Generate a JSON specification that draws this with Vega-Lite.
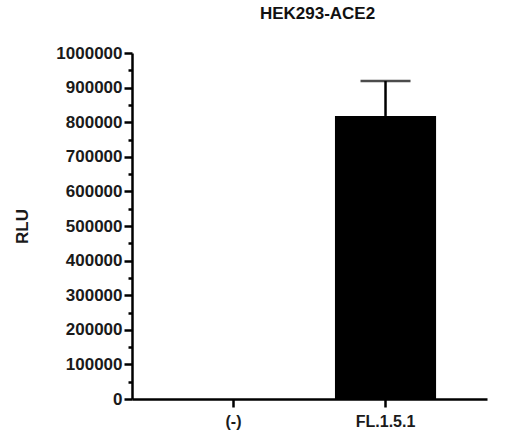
{
  "$schema": "https://vega.github.io/schema/vega-lite/v6.json",
  "width": 355,
  "height": 346,
  "autosize": {"type": "none"},
  "padding": {"left": 132, "top": 53, "right": 22, "bottom": 43},
  "background": "white",
  "config": {"view": {"stroke": null}, "font": "Liberation Sans"},
  "title": {
    "text": "HEK293-ACE2",
    "font": "Liberation Sans",
    "fontSize": 17,
    "fontWeight": "bold",
    "color": "#111111",
    "frame": "group",
    "anchor": "middle",
    "baseline": "alphabetic",
    "dx": 8,
    "offset": 8
  },
  "data": {
    "values": [
      {"group": "(-)", "value": 0, "upper": null},
      {"group": "FL.1.5.1", "value": 818000, "upper": 919000}
    ]
  },
  "encoding": {
    "x": {
      "field": "group",
      "type": "nominal",
      "sort": null,
      "scale": {"paddingInner": 0.335, "paddingOuter": 0.335},
      "axis": {
        "title": null,
        "labelAngle": 0,
        "labelFont": "Liberation Sans",
        "labelFontSize": 16,
        "labelFontWeight": "bold",
        "labelColor": "#1a1a1a",
        "labelPadding": 6,
        "tickSize": 8,
        "tickWidth": 2.5,
        "tickColor": "black",
        "domainColor": "black",
        "domainWidth": 2.5
      }
    }
  },
  "resolve": {"axis": {"y": "independent"}},
  "layer": [
    {
      "mark": {"type": "bar", "color": "black"},
      "encoding": {
        "y": {
          "field": "value",
          "type": "quantitative",
          "scale": {"domain": [0, 1000000], "nice": false},
          "axis": {
            "title": "RLU",
            "orient": "left",
            "offset": 0,
            "titleFont": "Liberation Sans",
            "titleFontSize": 17,
            "titleFontWeight": "bold",
            "titleColor": "#1a1a1a",
            "titleAngle": -90,
            "titleAlign": "center",
            "titleBaseline": "alphabetic",
            "titleX": -105,
            "titleY": 173,
            "values": [0, 100000, 200000, 300000, 400000, 500000, 600000, 700000, 800000, 900000, 1000000],
            "format": "d",
            "labelOverlap": false,
            "labelFont": "Liberation Sans",
            "labelFontSize": 17,
            "labelFontWeight": "bold",
            "labelColor": "#1a1a1a",
            "labelPadding": 2,
            "tickSize": 8,
            "tickWidth": 2.5,
            "tickColor": "black",
            "domainColor": "black",
            "domainWidth": 2.5,
            "grid": false
          }
        }
      }
    },
    {
      "mark": {"type": "rule", "color": "black", "strokeWidth": 2.5},
      "encoding": {
        "y": {
          "field": "value",
          "type": "quantitative",
          "axis": {
            "title": null,
            "orient": "left",
            "offset": 0,
            "values": [50000, 150000, 250000, 350000, 450000, 550000, 650000, 750000, 850000, 950000],
            "labels": false,
            "domain": false,
            "grid": false,
            "tickSize": 4,
            "tickWidth": 2.5,
            "tickColor": "black"
          }
        },
        "y2": {"field": "upper"}
      }
    },
    {
      "mark": {"type": "tick", "color": "black", "size": 50, "thickness": 2.5, "orient": "horizontal"},
      "encoding": {
        "y": {"field": "upper", "type": "quantitative", "axis": null}
      }
    }
  ]
}
